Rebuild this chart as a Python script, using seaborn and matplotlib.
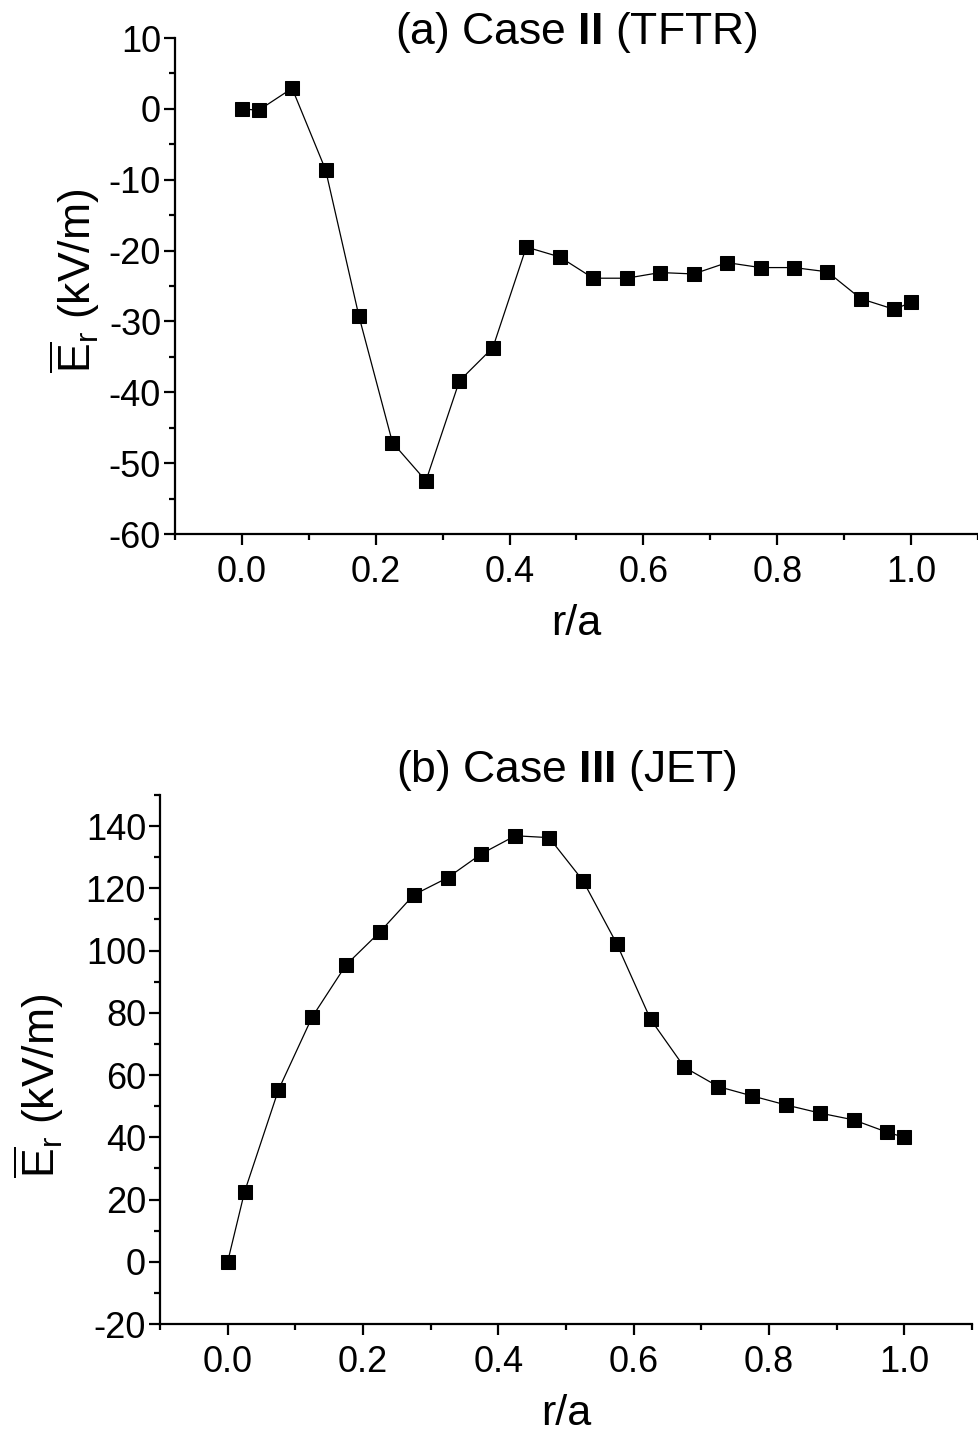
import numpy as np
import pandas as pd
import matplotlib
matplotlib.use("Agg")
import matplotlib.pyplot as plt
import seaborn as sns
from matplotlib.ticker import MultipleLocator, FormatStrFormatter

# radial positions r/a (same grid for both cases)
r_a = [0.0, 0.025, 0.075, 0.125, 0.175, 0.225, 0.275, 0.325, 0.375, 0.425, 0.475,
       0.525, 0.575, 0.625, 0.675, 0.725, 0.775, 0.825, 0.875, 0.925, 0.975, 1.0]

# (a) Case II (TFTR), Er in kV/m
er_tftr = [0.0, -0.2, 2.9, -8.6, -29.3, -47.1, -52.5, -38.4, -33.7, -19.5, -20.9,
           -23.9, -23.9, -23.1, -23.3, -21.7, -22.4, -22.4, -23.0, -26.8, -28.3, -27.3]

# (b) Case III (JET), Er in kV/m
er_jet = [0.0, 22.5, 55.2, 78.7, 95.4, 106.0, 117.9, 123.4, 131.1, 136.9, 136.3,
          122.5, 102.2, 77.9, 62.5, 56.3, 53.3, 50.4, 47.8, 45.6, 41.6, 40.0]

sns.set_theme(style="ticks")
plt.rcParams['font.family'] = ['Liberation Sans', 'DejaVu Sans']
plt.rcParams['mathtext.fontset'] = 'custom'
plt.rcParams['mathtext.rm'] = 'Liberation Sans'
plt.rcParams['mathtext.it'] = 'Liberation Sans:italic'
plt.rcParams['mathtext.bf'] = 'Liberation Sans:bold'
plt.rcParams['axes.unicode_minus'] = False
plt.rcParams['text.color'] = 'black'
plt.rcParams['axes.labelcolor'] = 'black'
plt.rcParams['xtick.color'] = 'black'
plt.rcParams['ytick.color'] = 'black'

W, H = 979, 1443
fig = plt.figure(figsize=(W / 100, H / 100), dpi=100)

# axes boxes in pixels: left, right, top, bottom
ax_a = fig.add_axes([175 / W, (H - 534) / H, (978 - 175) / W, (534 - 38) / H])
ax_b = fig.add_axes([160 / W, (H - 1324) / H, (972 - 160) / W, (1324 - 795) / H])

df_a = pd.DataFrame({"r_a": r_a, "Er": er_tftr})
df_b = pd.DataFrame({"r_a": r_a, "Er": er_jet})

ylabel = r'$\overline{\mathrm{E}}_\mathrm{r}$ (kV/m)'

panels = [
    (ax_a, df_a, (-60, 10), 10, 5, r'(a) Case $\mathbf{II}$ (TFTR)', 1.012, (-0.091, 0.51)),
    (ax_b, df_b, (-20, 150), 20, 10, r'(b) Case $\mathbf{III}$ (JET)', 1.047, (-0.116, 0.45)),
]

for ax, df, ylim, major, minor, title, ty, ylab_pos in panels:
    sns.lineplot(data=df, x="r_a", y="Er", ax=ax, color="black", linewidth=0.9,
                 marker="s", markersize=10.5, markeredgecolor="black", sort=False)
    ax.set_xlim(-0.1, 1.1)
    ax.set_ylim(*ylim)
    ax.xaxis.set_major_locator(MultipleLocator(0.2))
    ax.xaxis.set_minor_locator(MultipleLocator(0.1))
    ax.yaxis.set_major_locator(MultipleLocator(major))
    ax.yaxis.set_minor_locator(MultipleLocator(minor))
    ax.xaxis.set_major_formatter(FormatStrFormatter('%.1f'))
    ax.yaxis.set_major_formatter(FormatStrFormatter('%d'))
    for side in ["top", "right"]:
        ax.spines[side].set_visible(False)
    for side in ["left", "bottom"]:
        ax.spines[side].set_linewidth(1.6)
        ax.spines[side].set_color("black")
    ax.tick_params(which="major", direction="out", length=8, width=1.6, labelsize=26)
    ax.tick_params(axis="x", which="major", pad=7)
    ax.tick_params(axis="y", which="major", pad=2)
    ax.tick_params(which="minor", direction="out", length=4.5, width=1.6)
    ax.set_xlabel("r/a", fontsize=31, labelpad=10)
    ax.set_ylabel(ylabel, fontsize=32)
    ax.yaxis.set_label_coords(*ylab_pos)
    ax.text(0.5, ty, title, transform=ax.transAxes, ha="center", va="center", fontsize=32)
    ax.set_facecolor("white")

fig.savefig("out.png", dpi=100, facecolor="white")
